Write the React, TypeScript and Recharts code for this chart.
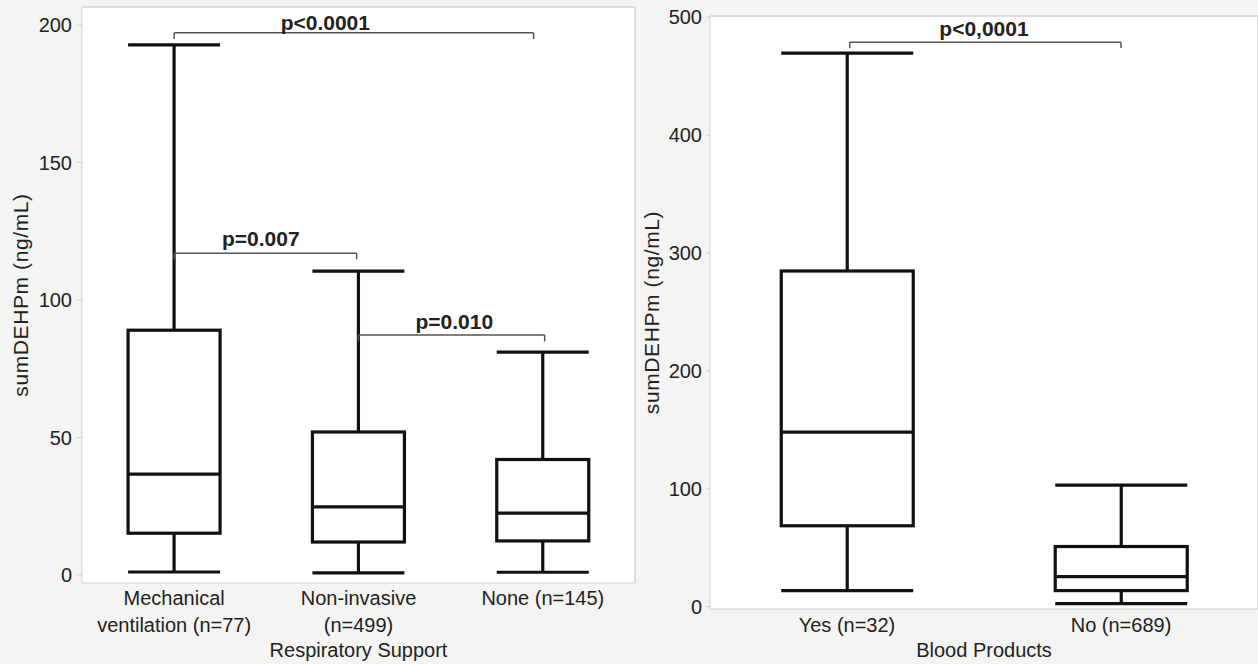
import {
  Bar,
  CartesianGrid,
  ComposedChart,
  ReferenceDot,
  ReferenceLine,
  XAxis,
  YAxis,
} from "recharts";

// Respiratory support panel
const RESP_GROUPS = ["Mechanical\nventilation (n=77)", "Non-invasive\n(n=499)", "None (n=145)"];
const RESP_MIN = [1.1, 0.8, 1.0];
const RESP_Q1 = [15.2, 12.0, 12.4];
const RESP_MEDIAN = [36.7, 24.8, 22.5];
const RESP_Q3 = [89, 52, 42];
const RESP_MAX = [192.7, 110.5, 81];
const RESP_TICKS = [0, 50, 100, 150, 200];
const RESP_DOMAIN = [-2.9, 206.5];

// brackets: x in band units (group i centre = i + 0.5)
const RESP_P_TEXT = ["p<0.0001", "p=0.007", "p=0.010"];
const RESP_P_FROM = [0.5, 0.5, 1.5];
const RESP_P_TO = [2.45, 1.49, 2.51];
const RESP_P_Y = [197.1, 117, 87.3];
const RESP_P_DROP = [2.2, 2.2, 2.4];
const RESP_P_TEXT_X = [1.32, 0.97, 2.02];
const RESP_P_TEXT_Y = [201, 122.5, 92];

// Blood products panel
const BLOOD_GROUPS = ["Yes (n=32)", "No (n=689)"];
const BLOOD_MIN = [13.6, 2.5];
const BLOOD_Q1 = [68.6, 13.6];
const BLOOD_MEDIAN = [148, 25.4];
const BLOOD_Q3 = [284.7, 51];
const BLOOD_MAX = [469.5, 103];
const BLOOD_TICKS = [0, 100, 200, 300, 400, 500];
const BLOOD_DOMAIN = [-2, 501];

const BLOOD_P_TEXT = ["p<0,0001"];
const BLOOD_P_FROM = [0.51];
const BLOOD_P_TO = [1.5];
const BLOOD_P_Y = [478.8];
const BLOOD_P_DROP = [5];
const BLOOD_P_TEXT_X = [1.0];
const BLOOD_P_TEXT_Y = [490.7];

const TEXT = "#222";
const FRAME = "#d2d2d0";

function buildRows(groups: string[], min: number[], q1: number[], med: number[], q3: number[], max: number[]) {
  return groups.map((group, i) => ({
    group,
    pos: i + 0.5,
    min: min[i],
    q1: q1[i],
    median: med[i],
    q3: q3[i],
    max: max[i],
  }));
}

function buildBrackets(text: string[], from: number[], to: number[], y: number[], drop: number[], tx: number[], ty: number[]) {
  return text.map((t, i) => ({ text: t, from: from[i], to: to[i], y: y[i], drop: drop[i], tx: tx[i], ty: ty[i] }));
}

function BoxShape(props: any) {
  const { x, y, width, height, payload } = props;
  const top = Math.min(y, y + height);
  const bottom = Math.max(y, y + height);
  const span = payload.max - payload.min;
  const px = (v: number) => bottom - ((v - payload.min) / span) * (bottom - top);
  const cx = x + width / 2;
  const yMax = px(payload.max);
  const yQ3 = px(payload.q3);
  const yMed = px(payload.median);
  const yQ1 = px(payload.q1);
  const yMin = px(payload.min);
  return (
    <g stroke="#111" strokeWidth={3.2} fill="none">
      <line x1={cx} x2={cx} y1={yMax} y2={yQ3} />
      <line x1={cx} x2={cx} y1={yQ1} y2={yMin} />
      <line x1={x} x2={x + width} y1={yMax} y2={yMax} />
      <line x1={x} x2={x + width} y1={yMin} y2={yMin} />
      <rect x={x} y={yQ3} width={width} height={yQ1 - yQ3} fill="#fff" />
      <line x1={x} x2={x + width} y1={yMed} y2={yMed} />
    </g>
  );
}

function GroupTick(props: any) {
  const { x, y, payload, firstDy } = props;
  const lines = String(payload.value).split("\n");
  return (
    <text x={x} y={y} textAnchor="middle" fill={TEXT} fontSize={20}>
      {lines.map((line, i) => (
        <tspan key={i} x={x} dy={i === 0 ? firstDy : 27}>
          {line}
        </tspan>
      ))}
    </text>
  );
}

type PanelProps = {
  rows: ReturnType<typeof buildRows>;
  brackets: ReturnType<typeof buildBrackets>;
  ticks: number[];
  domain: number[];
  width: number;
  height: number;
  top: number;
  right: number;
  yAxisWidth: number;
  xAxisHeight: number;
  tickSize: number;
  gap: string;
  labelOffset: number;
  firstDy: number;
  title: string;
};

function BoxPanel(p: PanelProps) {
  const n = p.rows.length;
  return (
    <ComposedChart
      width={p.width}
      height={p.height}
      data={p.rows}
      margin={{ top: p.top, right: p.right, bottom: 0, left: 0 }}
      barCategoryGap={p.gap}
    >
      <CartesianGrid fill="#fff" horizontal={false} vertical={false} />
      <XAxis
        xAxisId="cat"
        dataKey="group"
        height={p.xAxisHeight}
        stroke={FRAME}
        tickLine={false}
        tickSize={0}
        tickMargin={0}
        interval={0}
        tick={<GroupTick firstDy={p.firstDy} />}
        label={{ value: p.title, position: "insideBottom", offset: 7, fill: TEXT, fontSize: 20 }}
      />
      <XAxis
        xAxisId="ann"
        dataKey="pos"
        type="number"
        orientation="top"
        domain={[0, n]}
        height={0}
        hide
        allowDataOverflow
      />
      <YAxis
        width={p.yAxisWidth}
        domain={p.domain}
        ticks={p.ticks}
        allowDataOverflow
        stroke={FRAME}
        tickSize={p.tickSize}
        tickMargin={p.tickSize}
        tick={{ fill: TEXT, fontSize: 20 }}
        label={{
          value: "sumDEHPm (ng/mL)",
          angle: -90,
          position: "insideLeft",
          offset: p.labelOffset,
          fill: TEXT,
          fontSize: 21,
          letterSpacing: 0.6,
          style: { textAnchor: "middle" },
        }}
      />
      <ReferenceLine y={p.domain[1]} xAxisId="ann" stroke={FRAME} strokeWidth={1.5} />
      <ReferenceLine x={n} xAxisId="ann" stroke={FRAME} strokeWidth={1.5} />
      <Bar
        xAxisId="cat"
        dataKey={(d: any) => [d.min, d.max]}
        shape={<BoxShape />}
        isAnimationActive={false}
      />
      {p.brackets.map((b) => [
        <ReferenceLine
          key={b.text + "h"}
          xAxisId="ann"
          segment={[{ x: b.from, y: b.y }, { x: b.to, y: b.y }]}
          stroke="#555"
          strokeWidth={1.5}
        />,
        <ReferenceLine
          key={b.text + "l"}
          xAxisId="ann"
          segment={[{ x: b.from, y: b.y }, { x: b.from, y: b.y - b.drop }]}
          stroke="#555"
          strokeWidth={1.5}
        />,
        <ReferenceLine
          key={b.text + "r"}
          xAxisId="ann"
          segment={[{ x: b.to, y: b.y }, { x: b.to, y: b.y - b.drop }]}
          stroke="#555"
          strokeWidth={1.5}
        />,
        <ReferenceDot
          key={b.text + "t"}
          xAxisId="ann"
          x={b.tx}
          y={b.ty}
          r={0}
          stroke="none"
          fill="none"
          label={{ value: b.text, position: "center", fill: TEXT, fontSize: 21, fontWeight: 700 }}
        />,
      ])}
    </ComposedChart>
  );
}

export default function App() {
  const respRows = buildRows(RESP_GROUPS, RESP_MIN, RESP_Q1, RESP_MEDIAN, RESP_Q3, RESP_MAX);
  const bloodRows = buildRows(BLOOD_GROUPS, BLOOD_MIN, BLOOD_Q1, BLOOD_MEDIAN, BLOOD_Q3, BLOOD_MAX);
  const respBrackets = buildBrackets(RESP_P_TEXT, RESP_P_FROM, RESP_P_TO, RESP_P_Y, RESP_P_DROP, RESP_P_TEXT_X, RESP_P_TEXT_Y);
  const bloodBrackets = buildBrackets(BLOOD_P_TEXT, BLOOD_P_FROM, BLOOD_P_TO, BLOOD_P_Y, BLOOD_P_DROP, BLOOD_P_TEXT_X, BLOOD_P_TEXT_Y);

  return (
    <div
      style={{
        position: "absolute",
        left: 0,
        top: 0,
        width: 1258,
        height: 664,
        background: "#f4f4f2",
        fontFamily: "'Liberation Sans', Arial, Helvetica, sans-serif",
        overflow: "hidden",
      }}
    >
      <div style={{ position: "absolute", left: 0, top: 0 }}>
        <BoxPanel
          rows={respRows}
          brackets={respBrackets}
          ticks={RESP_TICKS}
          domain={RESP_DOMAIN}
          width={640}
          height={664}
          top={7}
          right={5}
          yAxisWidth={82}
          xAxisHeight={81}
          tickSize={5}
          gap="25%"
          labelOffset={21}
          firstDy={22}
          title="Respiratory Support"
        />
      </div>
      <div style={{ position: "absolute", left: 638, top: 0 }}>
        <BoxPanel
          rows={bloodRows}
          brackets={bloodBrackets}
          ticks={BLOOD_TICKS}
          domain={BLOOD_DOMAIN}
          width={620}
          height={664}
          top={16}
          right={0}
          yAxisWidth={72}
          xAxisHeight={55}
          tickSize={4}
          gap="26%"
          labelOffset={14}
          firstDy={23}
          title="Blood Products"
        />
      </div>
    </div>
  );
}
